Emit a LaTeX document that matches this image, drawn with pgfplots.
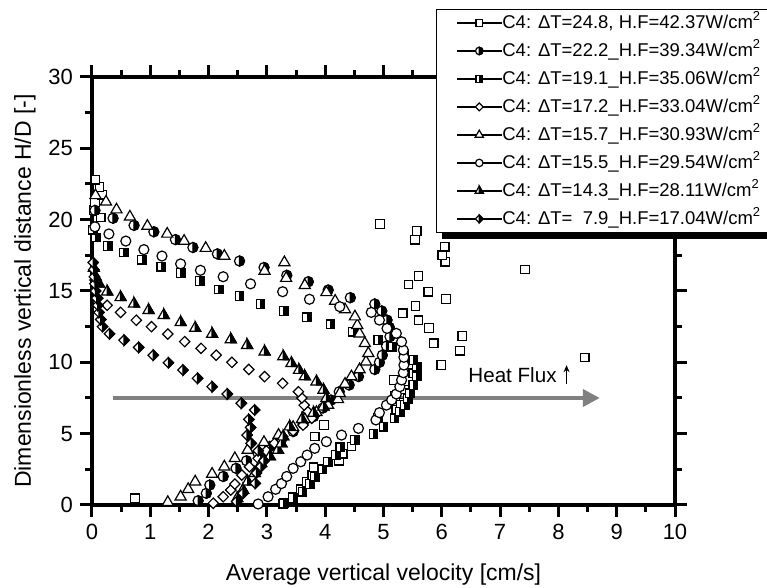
\documentclass[border=0pt]{standalone}
\usepackage{fontspec}
\setmainfont{Liberation Sans}
\usepackage{pgfplots}
\pgfplotsset{compat=1.18}
\usetikzlibrary{arrows.meta}

\pgfdeclareplotmark{osq}{\pgfscope
  \pgfsetstrokecolor{black}\pgfsetfillcolor{white}%
  \pgfpathrectangle{\pgfqpoint{-\pgfplotmarksize}{-\pgfplotmarksize}}{\pgfqpoint{2\pgfplotmarksize}{2\pgfplotmarksize}}%
  \pgfusepathqfillstroke\endpgfscope}
\pgfdeclareplotmark{hsq}{\pgfscope
  \pgfsetstrokecolor{black}\pgfsetfillcolor{white}%
  \pgfpathrectangle{\pgfqpoint{-\pgfplotmarksize}{-\pgfplotmarksize}}{\pgfqpoint{2\pgfplotmarksize}{2\pgfplotmarksize}}%
  \pgfusepathqfillstroke
  \pgfsetfillcolor{black}%
  \pgfpathrectangle{\pgfqpoint{0pt}{-\pgfplotmarksize}}{\pgfqpoint{\pgfplotmarksize}{2\pgfplotmarksize}}%
  \pgfusepathqfillstroke\endpgfscope}
\pgfdeclareplotmark{ocirc}{\pgfscope
  \pgfsetstrokecolor{black}\pgfsetfillcolor{white}%
  \pgfpathcircle{\pgfpointorigin}{\pgfplotmarksize}%
  \pgfusepathqfillstroke\endpgfscope}
\pgfdeclareplotmark{hcirc}{\pgfscope
  \pgfsetstrokecolor{black}\pgfsetfillcolor{white}%
  \pgfpathcircle{\pgfpointorigin}{\pgfplotmarksize}%
  \pgfusepathqfillstroke
  \pgfsetfillcolor{black}%
  \pgfpathmoveto{\pgfqpoint{0pt}{\pgfplotmarksize}}%
  \pgfpatharc{90}{-90}{\pgfplotmarksize}%
  \pgfpathclose
  \pgfusepathqfillstroke\endpgfscope}
\pgfdeclareplotmark{otri}{\pgfscope
  \pgfsetstrokecolor{black}\pgfsetfillcolor{white}%
  \pgfpathmoveto{\pgfqpoint{0pt}{\pgfplotmarksize}}%
  \pgfpathlineto{\pgfqpoint{.866\pgfplotmarksize}{-.5\pgfplotmarksize}}%
  \pgfpathlineto{\pgfqpoint{-.866\pgfplotmarksize}{-.5\pgfplotmarksize}}%
  \pgfpathclose
  \pgfusepathqfillstroke\endpgfscope}
\pgfdeclareplotmark{htri}{\pgfscope
  \pgfsetstrokecolor{black}\pgfsetfillcolor{white}%
  \pgfpathmoveto{\pgfqpoint{0pt}{\pgfplotmarksize}}%
  \pgfpathlineto{\pgfqpoint{.866\pgfplotmarksize}{-.5\pgfplotmarksize}}%
  \pgfpathlineto{\pgfqpoint{-.866\pgfplotmarksize}{-.5\pgfplotmarksize}}%
  \pgfpathclose
  \pgfusepathqfillstroke
  \pgfsetfillcolor{black}%
  \pgfpathmoveto{\pgfqpoint{0pt}{\pgfplotmarksize}}%
  \pgfpathlineto{\pgfqpoint{.866\pgfplotmarksize}{-.5\pgfplotmarksize}}%
  \pgfpathlineto{\pgfqpoint{0pt}{-.5\pgfplotmarksize}}%
  \pgfpathclose
  \pgfusepathqfillstroke\endpgfscope}
\pgfdeclareplotmark{odiam}{\pgfscope
  \pgfsetstrokecolor{black}\pgfsetfillcolor{white}%
  \pgfpathmoveto{\pgfqpoint{0pt}{\pgfplotmarksize}}%
  \pgfpathlineto{\pgfqpoint{\pgfplotmarksize}{0pt}}%
  \pgfpathlineto{\pgfqpoint{0pt}{-\pgfplotmarksize}}%
  \pgfpathlineto{\pgfqpoint{-\pgfplotmarksize}{0pt}}%
  \pgfpathclose
  \pgfusepathqfillstroke\endpgfscope}
\pgfdeclareplotmark{hdiam}{\pgfscope
  \pgfsetstrokecolor{black}\pgfsetfillcolor{white}%
  \pgfpathmoveto{\pgfqpoint{0pt}{\pgfplotmarksize}}%
  \pgfpathlineto{\pgfqpoint{\pgfplotmarksize}{0pt}}%
  \pgfpathlineto{\pgfqpoint{0pt}{-\pgfplotmarksize}}%
  \pgfpathlineto{\pgfqpoint{-\pgfplotmarksize}{0pt}}%
  \pgfpathclose
  \pgfusepathqfillstroke
  \pgfsetfillcolor{black}%
  \pgfpathmoveto{\pgfqpoint{0pt}{\pgfplotmarksize}}%
  \pgfpathlineto{\pgfqpoint{\pgfplotmarksize}{0pt}}%
  \pgfpathlineto{\pgfqpoint{0pt}{-\pgfplotmarksize}}%
  \pgfpathclose
  \pgfusepathqfillstroke\endpgfscope}

\begin{document}
\begin{tikzpicture}
\begin{axis}[
  at={(46pt,-252.5pt)}, anchor=south west,
  scale only axis, width=291.5pt, height=214pt,
  xmin=0, xmax=10, ymin=0, ymax=30,
  xtick={0,1,...,10}, ytick={0,5,...,30},
  minor x tick num=1, minor y tick num=1,
  tick align=outside,
  major tick length=6pt, minor tick length=3.5pt,
  major tick style={line width=1.5pt, black},
  minor tick style={line width=1.5pt, black},
  axis line style={line width=2pt},
  /pgf/number format/assume math mode=true,
  tick label style={font=\fontsize{11}{13}\selectfont},
  xlabel={Average vertical velocity [cm/s]},
  ylabel={Dimensionless vertical distance H/D [-]},
  label style={font=\fontsize{11.5}{13}\selectfont},
  xlabel style={at={(axis description cs:0.5,-0.1636)}, anchor=center},
  ylabel style={at={(axis description cs:-0.115,0.5)}, anchor=center},
  clip=false,
  legend cell align=left,
  legend style={at={(0.5895,1.159)}, anchor=north west,
    draw=black, line width=0.5pt, fill=white,
    font=\fontsize{9.25}{11}\selectfont,
    inner xsep=10pt, inner ysep=2pt, row sep=4.5pt,
    nodes={inner xsep=0pt, inner ysep=0pt, text height=7.5pt, text depth=2pt},
    /tikz/every even column/.append style={column sep=1.5pt}},
  legend image code/.code={
    \draw[black, line width=0.6pt] (0pt,0pt) -- (22.5pt,0pt);
    \draw[#1, every mark/.append style={scale=0.75}] plot coordinates {(11.25pt,0pt)};
  },
  every axis plot/.append style={only marks, black, line width=0.6pt},
]
\addplot[mark=osq, mark size=2.15pt] coordinates {
(0.74,0.47)
(3.28,0.07) (3.45,0.58) (3.58,1.10) (3.68,1.60) (3.78,2.10) (3.80,2.64) (4.24,3.10) (4.30,3.60) (4.45,4.10) (3.82,4.80) (3.98,5.60) (4.90,6.10) (5.22,6.66) (5.30,7.15) (5.20,7.65) (5.35,8.10) (5.18,8.76) (5.51,9.23) (5.99,9.80) (8.45,10.34) (6.31,10.81) (5.86,11.33) (6.35,11.84) (5.78,12.42) (5.60,12.95) (5.33,13.43) (5.55,13.95) (6.07,14.44) (5.77,14.95) (5.43,15.45) (5.60,16.05) (7.43,16.50) (6.06,17.05) (6.01,17.50) (6.05,18.10) (5.54,18.60) (5.57,19.20) (4.94,19.70) (0.15,20.15) (0.03,20.65) (0.05,21.25) (0.17,21.75) (0.13,22.30) (0.06,22.80)};
\addlegendentry{C4: ΔT=24.8, H.F=42.37W/cm\textsuperscript{2}}
\addplot[mark=hcirc, mark size=2.5pt] coordinates {
(1.82,0.30) (1.96,0.82) (2.02,1.40) (2.25,2.00) (2.47,2.57) (2.65,3.10) (2.85,3.60) (3.05,4.10) (3.25,4.60) (3.45,5.15) (3.62,5.70) (3.80,6.20) (3.96,6.80) (4.10,7.35) (4.24,7.94) (4.41,8.41) (4.57,9.00) (4.85,9.50) (4.93,10.00) (4.98,10.50) (5.05,11.14) (5.11,11.80) (5.10,12.45) (5.06,12.96) (4.97,13.60) (4.85,14.09) (4.43,14.53) (4.05,15.07) (3.71,15.65) (3.34,16.10) (2.95,16.65) (2.53,17.10) (2.15,17.60) (1.73,18.05) (1.43,18.60) (1.06,19.15) (0.72,19.60) (0.36,20.10) (0.05,20.65)};
\addlegendentry{C4: ΔT=22.2\_H.F=39.34W/cm\textsuperscript{2}}
\addplot[mark=hsq, mark size=2.15pt] coordinates {
(3.29,0.12) (3.45,0.50) (3.61,0.93) (3.74,1.47) (3.82,1.98) (3.95,2.50) (4.05,3.03) (4.18,3.50) (4.26,4.04) (4.51,4.55) (4.83,4.98) (5.00,5.49) (5.19,6.08) (5.28,6.54) (5.37,7.00) (5.42,7.45) (5.45,7.83) (5.51,8.41) (5.57,9.00) (5.57,9.69) (5.51,10.16) (5.35,10.60) (5.15,11.10) (4.91,11.56) (4.48,12.15) (4.09,12.66) (3.69,13.15) (3.29,13.60) (2.89,14.10) (2.53,14.65) (2.18,15.10) (1.85,15.70) (1.52,16.25) (1.19,16.70) (0.86,17.20) (0.55,17.70) (0.27,18.15) (0.07,18.75) (0.02,19.30)};
\addlegendentry{C4: ΔT=19.1\_H.F=35.06W/cm\textsuperscript{2}}
\addplot[mark=odiam, mark size=2.6pt] coordinates {
(2.08,0.12) (2.25,0.58) (2.38,1.05) (2.45,1.47) (2.57,2.10) (2.70,2.68) (2.85,3.27) (2.99,3.80) (3.13,4.32) (3.27,4.79) (3.45,5.20) (3.62,5.60) (3.77,6.08) (3.70,6.54) (3.64,7.00) (3.60,7.50) (3.54,7.94) (3.27,8.53) (2.96,9.00) (2.69,9.50) (2.40,10.00) (2.13,10.50) (1.87,10.98) (1.59,11.45) (1.30,11.98) (1.02,12.50) (0.76,12.95) (0.49,13.50) (0.26,14.00) (0.10,14.50) (0.05,15.00)};
\addlegendentry{C4: ΔT=17.2\_H.F=33.04W/cm\textsuperscript{2}}
\addplot[mark=otri, mark size=3.2pt] coordinates {
(1.30,0.19) (1.52,0.58) (1.65,1.10) (1.77,1.63) (2.06,2.17) (2.27,2.68) (2.45,3.27) (2.67,3.85) (2.95,4.40) (3.20,4.90) (3.45,5.45) (3.65,6.00) (3.85,6.50) (4.05,7.00) (4.22,7.40) (4.25,7.83) (4.34,8.48) (4.45,9.00) (4.59,9.50) (4.70,10.04) (4.74,10.63) (4.68,11.33) (4.59,12.00) (4.55,12.60) (4.51,13.20) (4.34,13.70) (4.17,14.30) (4.02,14.90) (3.65,15.40) (3.33,15.90) (2.96,16.40) (3.30,17.00) (2.27,17.45) (1.95,18.00) (1.58,18.50) (1.29,19.00) (0.95,19.55) (0.65,20.20) (0.42,20.70) (0.24,21.25) (0.06,21.70)};
\addlegendentry{C4: ΔT=15.7\_H.F=30.93W/cm\textsuperscript{2}}
\addplot[mark=ocirc, mark size=2.5pt] coordinates {
(2.85,0.07) (3.02,0.58) (3.15,1.10) (3.25,1.50) (3.34,2.00) (3.45,2.57) (3.58,3.03) (3.69,3.50) (3.82,3.97) (4.02,4.44) (4.28,4.90) (4.57,5.37) (4.87,5.96) (4.93,6.47) (5.05,7.00) (5.14,7.36) (5.22,7.78) (5.28,8.29) (5.31,8.76) (5.34,9.27) (5.35,9.81) (5.35,10.35) (5.34,10.86) (5.31,11.44) (5.22,12.03) (5.06,12.38) (4.93,12.96) (4.79,13.50) (4.25,13.90) (3.73,14.42) (3.27,14.95) (2.72,15.50) (2.25,16.00) (1.86,16.45) (1.52,16.90) (1.20,17.45) (0.89,17.90) (0.58,18.50) (0.29,19.00) (0.05,19.50)};
\addlegendentry{C4: ΔT=15.5\_H.F=29.54W/cm\textsuperscript{2}}
\addplot[mark=htri, mark size=3.2pt] coordinates {
(2.49,0.47) (2.59,1.05) (2.67,1.63) (2.79,2.22) (2.90,2.92) (3.05,3.39) (3.19,3.85) (3.25,4.30) (3.28,4.79) (3.39,5.49) (3.60,6.00) (3.80,6.45) (3.97,6.89) (4.02,7.48) (3.97,8.06) (3.85,8.64) (3.65,9.00) (3.55,9.45) (3.42,9.93) (3.28,10.40) (2.96,10.74) (2.66,11.20) (2.38,11.60) (2.06,11.98) (1.77,12.40) (1.52,12.80) (1.23,13.30) (0.97,13.65) (0.72,14.10) (0.49,14.55) (0.26,14.95) (0.12,15.50) (0.06,16.00) (0.03,16.60)};
\addlegendentry{C4: ΔT=14.3\_H.F=28.11W/cm\textsuperscript{2}}
\addplot[mark=hdiam, mark size=2.6pt] coordinates {
(2.48,0.23) (2.59,0.82) (2.80,1.52) (2.82,2.24) (2.90,2.70) (2.95,3.10) (2.85,3.80) (2.73,4.32) (2.66,4.90) (2.72,5.44) (2.69,6.00) (2.79,6.66) (2.56,7.13) (2.32,7.78) (2.06,8.29) (1.81,8.88) (1.56,9.46) (1.31,9.97) (1.05,10.50) (0.80,11.05) (0.55,11.55) (0.30,12.00) (0.18,12.50) (0.15,13.00) (0.12,13.50) (0.10,14.00) (0.08,14.50) (0.06,15.00) (0.05,15.50) (0.04,16.00) (0.03,16.50) (0.02,17.00)};
\addlegendentry{C4: ΔT=\ \ 7.9\_H.F=17.04W/cm\textsuperscript{2}}
\draw[line width=2pt, color=gray, -{Triangle[length=8.5pt,width=8.5pt]}] (axis cs:0.36,7.5) -- (axis cs:8.71,7.5);
\node[anchor=west, inner sep=0pt, font=\fontsize{10.3}{12}\selectfont] at (axis cs:6.45,9.1) {Heat Flux};
\draw[line width=0.6pt, -{Stealth[length=3.5pt,width=3pt]}] (axis cs:8.14,8.45) -- (axis cs:8.14,9.8);
\end{axis}
% legend shadow strip below the legend box
\fill[black] (221pt,-116pt) rectangle (400pt,-119.5pt);
\pgfresetboundingbox
\useasboundingbox (0,0) rectangle (383.5pt,-294pt);
\end{tikzpicture}
\end{document}
